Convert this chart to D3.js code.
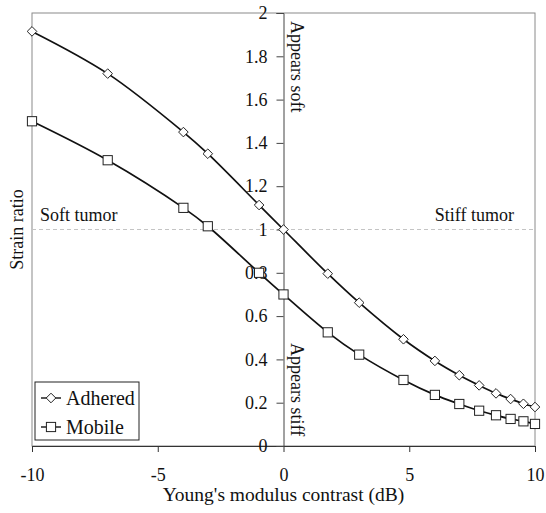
<!DOCTYPE html>
<html><head><meta charset="utf-8">
<script src="https://cdn.jsdelivr.net/npm/d3@7/dist/d3.min.js"></script>
<style>body{margin:0;background:#fff}svg{display:block}text{font-family:"Liberation Serif","Times New Roman",serif;fill:#111}</style>
</head><body><svg id="c" width="546" height="513"></svg>
<script>
const contrastDB = [-10, -6.99, -3.98, -3.01, -0.97, 0, 1.76, 3.01, 4.77, 6.02, 6.99, 7.78, 8.45, 9.03, 9.54, 10];
const adhered = [1.915, 1.72, 1.45, 1.35, 1.113, 1.0, 0.796, 0.662, 0.493, 0.393, 0.327, 0.28, 0.243, 0.217, 0.195, 0.18];
const mobile = [1.50, 1.32, 1.10, 1.015, 0.80, 0.70, 0.525, 0.422, 0.305, 0.236, 0.194, 0.163, 0.142, 0.125, 0.114, 0.102];
const xTicks = [-10, -5, 0, 5, 10];
const yTicks = [0, 0.2, 0.4, 0.6, 0.8, 1, 1.2, 1.4, 1.6, 1.8, 2];
const seriesNames = ["Adhered", "Mobile"];

const svg = d3.select("#c");
const x = d3.scaleLinear().domain([-10, 10]).range([32, 535]);
const y = d3.scaleLinear().domain([0, 2]).range([446, 13]);

// plot border
svg.append("rect").attr("x", x(-10)).attr("y", y(2)).attr("width", x(10) - x(-10)).attr("height", y(0) - y(2))
  .attr("fill", "none").attr("stroke", "#8a8a8a").attr("stroke-width", 1);

// reference line at 1
svg.append("line").attr("x1", x(-10)).attr("x2", x(10)).attr("y1", y(1)).attr("y2", y(1))
  .attr("stroke", "#c4c4c4").attr("stroke-width", 1).attr("stroke-dasharray", "4,3");

// x axis
const xAxis = svg.append("g").attr("transform", `translate(0,${y(0)})`)
  .call(d3.axisBottom(x).tickValues(xTicks).tickSize(6).tickPadding(16).tickFormat(d => String(d)));
xAxis.attr("font-family", null).attr("font-size", null);
xAxis.select(".domain").attr("stroke", "#333");
xAxis.selectAll(".tick line").attr("stroke", "#333");
xAxis.selectAll("text").attr("font-size", 18).attr("fill", "#111");

// y axis at x=0
const yAxis = svg.append("g").attr("transform", `translate(${x(0)},0)`)
  .call(d3.axisLeft(y).tickValues(yTicks).tickSize(7).tickPadding(9).tickFormat(d => String(d)));
yAxis.attr("font-family", null).attr("font-size", null);
yAxis.select(".domain").attr("stroke", "#444");
yAxis.selectAll(".tick line").attr("stroke", "#444");
yAxis.selectAll("text").attr("font-size", 18).attr("fill", "#111");

const line = d3.line().curve(d3.curveCatmullRom.alpha(0.5)).x(d => x(d[0])).y(d => y(d[1]));
const dA = contrastDB.map((c, i) => [c, adhered[i]]);
const dM = contrastDB.map((c, i) => [c, mobile[i]]);
svg.append("path").attr("d", line(dA)).attr("fill", "none").attr("stroke", "#111").attr("stroke-width", 1.7);
svg.append("path").attr("d", line(dM)).attr("fill", "none").attr("stroke", "#111").attr("stroke-width", 1.7);

const diamond = (cx, cy, r) => `M${cx},${cy - r}L${cx + r},${cy}L${cx},${cy + r}L${cx - r},${cy}Z`;
svg.append("g").selectAll("path").data(dA).join("path")
  .attr("d", d => diamond(x(d[0]), y(d[1]), 4.8)).attr("fill", "#fff").attr("stroke", "#222").attr("stroke-width", 1);
svg.append("g").selectAll("rect").data(dM).join("rect")
  .attr("x", d => x(d[0]) - 4.6).attr("y", d => y(d[1]) - 4.6).attr("width", 9.2).attr("height", 9.2)
  .attr("fill", "#fff").attr("stroke", "#222").attr("stroke-width", 1);

// annotations
svg.append("text").attr("x", 40).attr("y", 221).attr("font-size", 18).text("Soft tumor");
svg.append("text").attr("x", 514).attr("y", 221).attr("font-size", 18).attr("text-anchor", "end").text("Stiff tumor");
svg.append("text").attr("transform", `translate(${x(0) + 7},21) rotate(90)`).attr("font-size", 18).text("Appears soft");
svg.append("text").attr("transform", `translate(${x(0) + 7},343) rotate(90)`).attr("font-size", 18).text("Appears stiff");

// axis titles
svg.append("text").attr("x", x(0)).attr("y", 501).attr("font-size", 19.5).attr("text-anchor", "middle").text("Young's modulus contrast (dB)");
svg.append("text").attr("transform", `translate(23,${y(1)}) rotate(-90)`).attr("font-size", 18).attr("text-anchor", "middle").text("Strain ratio");

// legend
const lg = svg.append("g");
lg.append("rect").attr("x", 35).attr("y", 382).attr("width", 104).attr("height", 58).attr("fill", "#fff").attr("stroke", "#222").attr("stroke-width", 1);
seriesNames.forEach((n, i) => {
  const cy = 398 + i * 29;
  lg.append("line").attr("x1", 41).attr("x2", 61).attr("y1", cy).attr("y2", cy).attr("stroke", "#111").attr("stroke-width", 1.4);
  if (i === 0) lg.append("path").attr("d", diamond(51, cy, 4.8)).attr("fill", "#fff").attr("stroke", "#222");
  else lg.append("rect").attr("x", 51 - 4.6).attr("y", cy - 4.6).attr("width", 9.2).attr("height", 9.2).attr("fill", "#fff").attr("stroke", "#222");
  lg.append("text").attr("x", 66).attr("y", cy + 7).attr("font-size", 20).text(n);
});
</script></body></html>
